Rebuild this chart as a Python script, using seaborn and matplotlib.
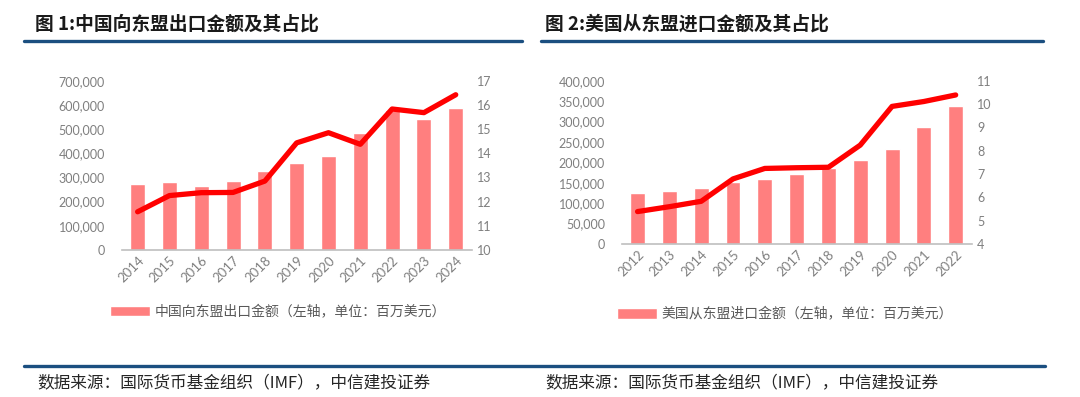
import numpy as np
import pandas as pd
import matplotlib
matplotlib.use("Agg")
import matplotlib.pyplot as plt
from matplotlib.lines import Line2D
from matplotlib.ticker import FuncFormatter, FixedLocator
import seaborn as sns

sns.set_style("white")
plt.rcParams['font.family'] = ['Noto Sans CJK SC', 'DejaVu Sans']

# 图1 数据
years_cn = ["2014", "2015", "2016", "2017", "2018", "2019", "2020", "2021", "2022", "2023", "2024"]
export_cn = [273000, 281000, 265000, 284000, 325000, 361000, 389000, 485000, 580000, 540000, 588000]
share_cn = [11.58, 12.25, 12.37, 12.38, 12.85, 14.43, 14.85, 14.37, 15.83, 15.68, 16.42]

# 图2 数据
years_us = ["2012", "2013", "2014", "2015", "2016", "2017", "2018", "2019", "2020", "2021", "2022"]
import_us = [124000, 129000, 138000, 153000, 160000, 171000, 187000, 207000, 233000, 287000, 338000]
share_us = [5.39, 5.60, 5.83, 6.79, 7.24, 7.27, 7.29, 8.24, 9.90, 10.11, 10.39]

bar_color = "#FF7F7F"
line_color = "#FF0000"
gray = "#7F7F7F"
blue = "#1B4F80"
num_font = "Lato"

fig = plt.figure(figsize=(10.8, 3.97), dpi=100)


def draw_panel(rect, years, bars, line, ymax, ystep, rmin, rmax, legend_text, leg_xy):
    ax = fig.add_axes(rect)
    df = pd.DataFrame({"year": years, "value": bars})
    sns.barplot(data=df, x="year", y="value", color=bar_color, width=0.47,
                saturation=1, ax=ax, label=legend_text)
    ax.set_xlim(-0.5, len(years) - 0.5)
    ax.set_ylim(0, ymax)
    ax.set_yticks(np.arange(0, ymax + 1, ystep))
    ax.yaxis.set_major_formatter(FuncFormatter(lambda v, p: f"{int(v):,}"))
    ax.set_xlabel("")
    ax.set_ylabel("")
    for s in ["left", "right", "top"]:
        ax.spines[s].set_visible(False)
    ax.spines["bottom"].set_color("#BFBFBF")
    ax.spines["bottom"].set_linewidth(1.2)
    ax.tick_params(axis="y", length=0, labelsize=9, labelcolor=gray, pad=12)
    ax.tick_params(axis="x", which="major", length=0, labelsize=9.5, labelcolor=gray, pad=3)
    ax.xaxis.set_minor_locator(FixedLocator(np.arange(-0.5, len(years), 1.0)))
    ax.tick_params(axis="x", which="minor", length=4, color="#BFBFBF", width=1)
    for lab in ax.get_xticklabels():
        lab.set_rotation(45)
        lab.set_ha("right")
        lab.set_rotation_mode("anchor")
        lab.set_fontfamily(num_font)
    for lab in ax.get_yticklabels():
        lab.set_fontfamily(num_font)

    ax2 = ax.twinx()
    sns.lineplot(x=np.arange(len(years)), y=line, color=line_color, linewidth=3.8,
                 ax=ax2, legend=False)
    ax2.set_ylim(rmin, rmax)
    ax2.set_yticks(np.arange(rmin, rmax + 1, 1))
    ax2.set_ylabel("")
    for s in ["left", "right", "top", "bottom"]:
        ax2.spines[s].set_visible(False)
    ax2.tick_params(axis="y", length=0, labelsize=9, labelcolor=gray, pad=4)
    for lab in ax2.get_yticklabels():
        lab.set_fontfamily(num_font)

    leg = ax.legend(loc="upper left", bbox_to_anchor=leg_xy, frameon=False,
                    handlelength=2.9, handleheight=0.8, handletextpad=0.35,
                    prop={"family": "Noto Sans CJK SC", "size": 10})
    for t in leg.get_texts():
        t.set_color("#595959")
    return ax


draw_panel([0.1127, 0.3703, 0.324, 0.4264], years_cn, export_cn, share_cn,
           700000, 100000, 10, 17, "中国向东盟出口金额（左轴，单位：百万美元）", (-0.07, -0.25))
draw_panel([0.5756, 0.3854, 0.324, 0.4112], years_us, import_us, share_us,
           400000, 50000, 4, 11, "美国从东盟进口金额（左轴，单位：百万美元）", (-0.05, -0.31))

# 标题与分隔线
fig.text(35 / 1080, 1 - 24 / 397, "图 1:中国向东盟出口金额及其占比", fontsize=13.5,
         fontweight="bold", va="center", ha="left", color="#1A1A1A")
fig.text(545 / 1080, 1 - 24 / 397, "图 2:美国从东盟进口金额及其占比", fontsize=13.5,
         fontweight="bold", va="center", ha="left", color="#1A1A1A")
fig.add_artist(Line2D([24 / 1080, 522 / 1080], [1 - 41 / 397] * 2, color=blue, lw=2.4))
fig.add_artist(Line2D([541 / 1080, 1043 / 1080], [1 - 41 / 397] * 2, color=blue, lw=2.4))
fig.add_artist(Line2D([24 / 1080, 1045 / 1080], [1 - 366 / 397] * 2, color=blue, lw=2.4))

fig.text(37 / 1080, 1 - 383 / 397, "数据来源：国际货币基金组织（IMF），中信建投证券",
         fontsize=12, va="center", ha="left", color="#262626", style="italic")
fig.text(545 / 1080, 1 - 383 / 397, "数据来源：国际货币基金组织（IMF），中信建投证券",
         fontsize=12, va="center", ha="left", color="#262626", style="italic")

fig.savefig("out.png", dpi=100, facecolor="white")
